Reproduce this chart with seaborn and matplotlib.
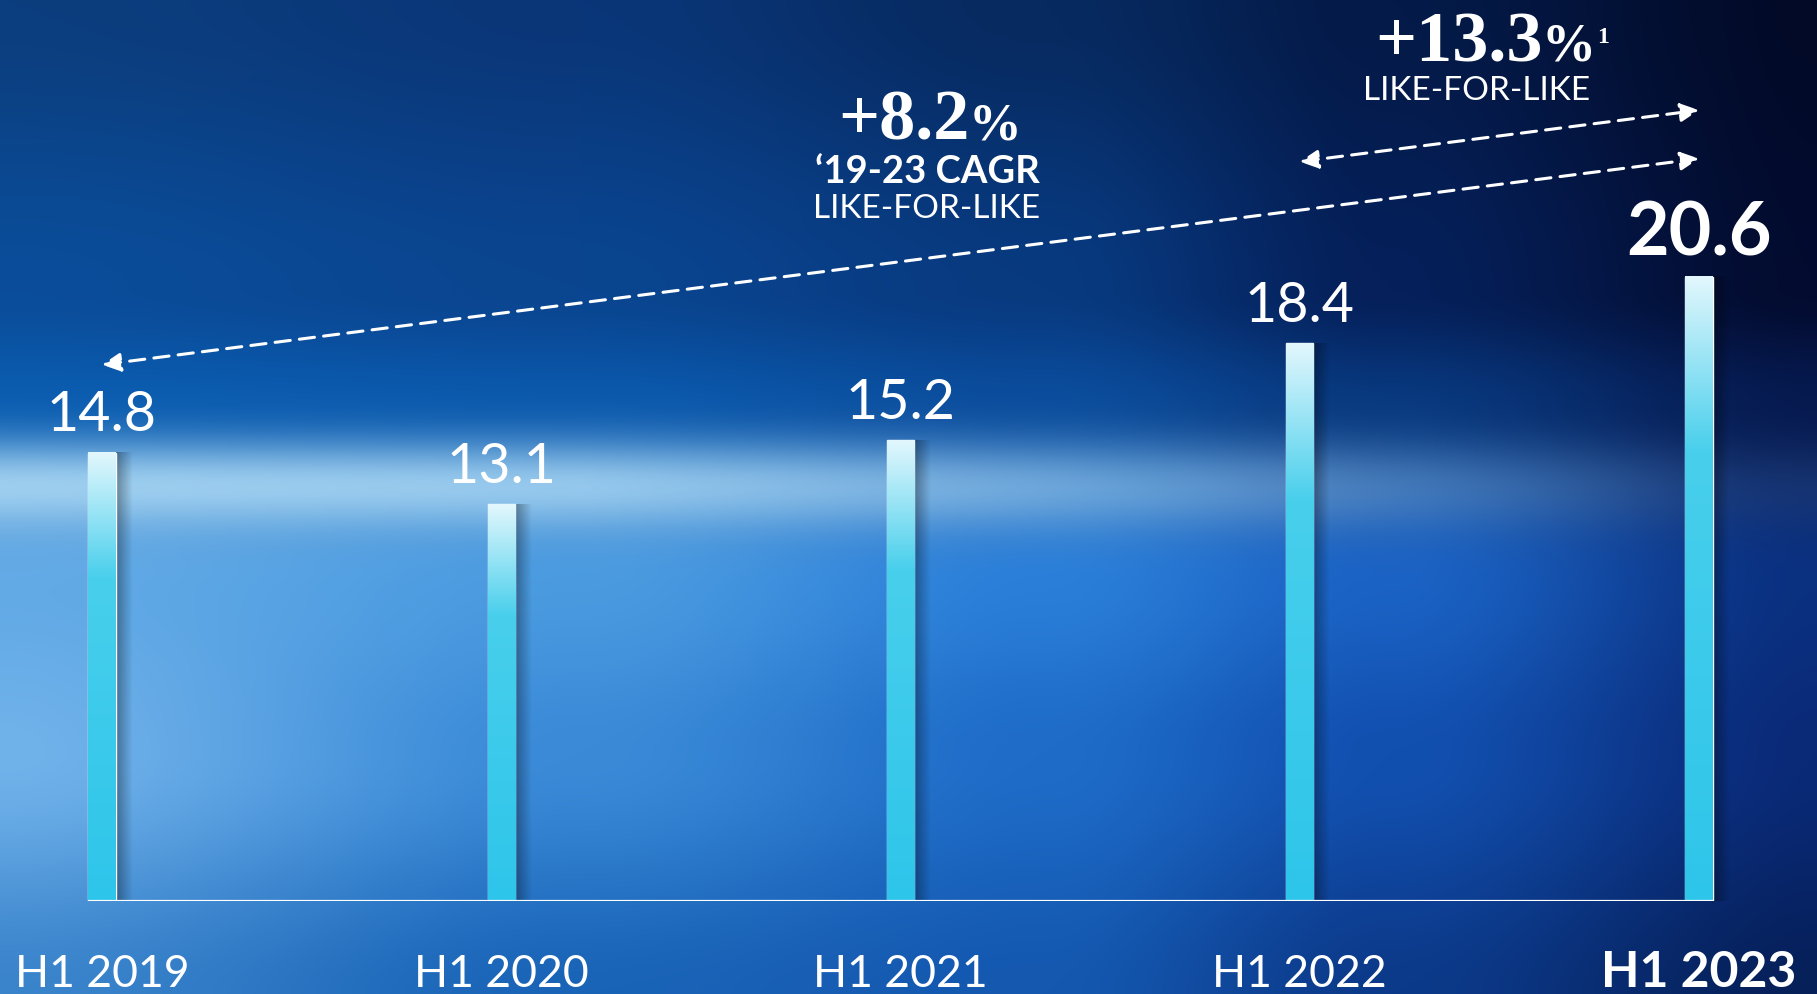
import numpy as np
import pandas as pd
import matplotlib.pyplot as plt
import matplotlib.colors as mcolors
import seaborn as sns

# -----------------------------------------------------------------------------
# Data
# -----------------------------------------------------------------------------
periods = ["H1 2019", "H1 2020", "H1 2021", "H1 2022", "H1 2023"]
sales = [14.8, 13.1, 15.2, 18.4, 20.6]
value_labels = ["14.8", "13.1", "15.2", "18.4", "20.6"]

cagr_value = "+8.2"
cagr_label = "\u201819-23 CAGR"
lfl_value = "+13.3"
lfl_label = "LIKE-FOR-LIKE"

df = pd.DataFrame({"period": periods, "sales": sales})

# -----------------------------------------------------------------------------
# Plotting attributes
# -----------------------------------------------------------------------------
sns.set_theme(style="white")
plt.rcParams["font.family"] = ["Lato", "DejaVu Sans"]

W, H, dpi = 1817, 995, 100
base_px = 93          # baseline height from the bottom (px)
step_px = 399.25      # distance between two bars (px)
first_px = 102        # centre of first bar (px)
unit_px = 30.3        # px per unit of sales

fig = plt.figure(figsize=(W / dpi, H / dpi), dpi=dpi)

# -----------------------------------------------------------------------------
# Background gradient
# -----------------------------------------------------------------------------
ys = np.array([0, 290, 405, 580, 753, 995])
xs = np.array([0, 580, 1043, 1390, 1817])
grid_hex = [
    ["#0c3e7e", "#0a3678", "#072a60", "#041a48", "#020a28"],
    ["#0a4d9a", "#0a4590", "#083a80", "#05205a", "#030c30"],
    ["#0a5cb0", "#0a58ac", "#0a4c9c", "#08387e", "#061a50"],
    ["#62aae6", "#4a9ae0", "#2a7ed8", "#1a62c4", "#0a3080"],
    ["#70b2ea", "#3a8ad8", "#1e6cc8", "#1250b0", "#0a2a78"],
    ["#3a84cc", "#1a64b8", "#1458b0", "#0c3a8a", "#06205a"],
]
grid = np.array([[mcolors.to_rgb(c) for c in row] for row in grid_hex])

def lerp_index(vals, knots):
    f = np.interp(vals, knots, np.arange(len(knots)))
    i0 = np.clip(np.floor(f).astype(int), 0, len(knots) - 2)
    t = f - i0
    t = t * t * (3 - 2 * t)
    return i0, t

xi, xt = lerp_index(np.arange(W), xs)
rows = grid[:, xi] * (1 - xt)[None, :, None] + grid[:, xi + 1] * xt[None, :, None]
yi, yt = lerp_index(np.arange(H), ys)
img = rows[yi] * (1 - yt)[:, None, None] + rows[yi + 1] * yt[:, None, None]

# light streak across the middle
streak_amp = np.interp(np.arange(W), [0, 580, 1043, 1390, 1740],
                       [0.85, 0.8, 0.55, 0.32, 0.08])
streak_w = streak_amp[None, :] * np.exp(-((np.arange(H) - 487) / 45.0) ** 2)[:, None]
streak_col = np.array(mcolors.to_rgb("#b0dcf6"))
img = img * (1 - streak_w[..., None]) + streak_col * streak_w[..., None]

bg = fig.add_axes([0, 0, 1, 1])
bg.imshow(img, extent=[0, W, H, 0], aspect="auto", interpolation="bilinear")
bg.axis("off")

# -----------------------------------------------------------------------------
# Bars
# -----------------------------------------------------------------------------
ax = fig.add_axes([0, base_px / H, 1, (H - base_px) / H])
ax.patch.set_alpha(0)
sns.barplot(data=df, x="period", y="sales", width=0.068, color="#35c8ea",
            ax=ax, zorder=3)

top_col = np.array(mcolors.to_rgb("#e2f7fd"))
mid_col = np.array(mcolors.to_rgb("#48cfec"))
bot_col = np.array(mcolors.to_rgb("#2ec5ea"))
tt = np.linspace(0, 1, 200)
grad = np.where((tt < 0.28)[:, None],
                top_col + (mid_col - top_col) * (tt / 0.28)[:, None],
                mid_col + (bot_col - mid_col) * ((tt - 0.28) / 0.72)[:, None])
grad = grad[:, None, :]

shadow = np.zeros((1, 50, 4))
shadow[..., 3] = np.linspace(0.35, 0.0, 50)

for p in ax.patches:
    x0, w, h = p.get_x(), p.get_width(), p.get_height()
    ax.imshow(shadow, extent=[x0 + w, x0 + 1.6 * w, 0, h], aspect="auto",
              zorder=2, interpolation="bilinear")
    ax.imshow(grad, extent=[x0, x0 + w, 0, h], aspect="auto", zorder=4,
              interpolation="bilinear")

first, last = ax.patches[0], ax.patches[-1]
ax.hlines(0, first.get_x(), last.get_x() + last.get_width(), color="white",
          lw=1.6, zorder=5)

ax.set_xlim(-first_px / step_px, 4 + (W - first_px - 4 * step_px) / step_px)
ax.set_ylim(0, (H - base_px) / unit_px)
ax.set(xlabel=None, ylabel=None, yticks=[])
sns.despine(ax=ax, left=True, bottom=True)

# x labels
ax.tick_params(axis="x", length=0, pad=61, colors="white")
for i, lab in enumerate(ax.get_xticklabels()):
    is_last = i == len(periods) - 1
    lab.set_va("baseline")
    lab.set_fontsize(36 if is_last else 32)
    lab.set_fontweight("bold" if is_last else "normal")

# value labels
for i, (v, lab) in enumerate(zip(sales, value_labels)):
    is_last = i == len(sales) - 1
    ax.annotate(lab, (i, v), xytext=(0, 16), textcoords="offset points",
                ha="center", va="baseline", color="white",
                fontsize=53 if is_last else 40,
                fontweight="bold" if is_last else "normal", zorder=6)

# -----------------------------------------------------------------------------
# Growth annotations
# -----------------------------------------------------------------------------
arrow = dict(arrowstyle="<|-|>", color="white", lw=2.2, linestyle=(0, (5, 3)),
             mutation_scale=28, shrinkA=0, shrinkB=0)
ax.annotate("", xy=(4, sales[4] + 3.9), xytext=(0, sales[0] + 2.9),
            arrowprops=arrow, zorder=6)
ax.annotate("", xy=(4, sales[4] + 5.5), xytext=(3, sales[3] + 6.0),
            arrowprops=arrow, zorder=6)

serif = ["Liberation Serif", "DejaVu Serif"]
fx = lambda px: px / W
fy = lambda px: 1 - px / H

# +8.2% '19-23 CAGR
t1 = fig.text(fx(970), fy(140), cagr_value, ha="right", va="baseline",
              color="white", fontsize=52, fontweight="bold", family=serif)
ax.annotate("%", xy=(1, 0), xycoords=t1, xytext=(-1, 2.9),
            textcoords="offset points", ha="left", va="bottom", color="white",
            fontsize=38, fontweight="bold", family=serif)
fig.text(fx(927), fy(183), cagr_label, ha="center", va="baseline",
         color="white", fontsize=27.5, fontweight="bold")
fig.text(fx(927), fy(218), lfl_label, ha="center", va="baseline",
         color="white", fontsize=24, fontweight="normal")

# +13.3% like-for-like
t2 = fig.text(fx(1543), fy(62), lfl_value, ha="right", va="baseline",
              color="white", fontsize=52, fontweight="bold", family=serif)
pct = ax.annotate("%", xy=(1, 0), xycoords=t2, xytext=(-1, 2.9),
                  textcoords="offset points", ha="left", va="bottom",
                  color="white", fontsize=39, fontweight="bold", family=serif)
ax.annotate("1", xy=(1, 1), xycoords=pct, xytext=(1, -3),
            textcoords="offset points", ha="left", va="top", color="white",
            fontsize=17, fontweight="bold", family=serif)
fig.text(fx(1477), fy(100), lfl_label, ha="center", va="baseline",
         color="white", fontsize=24, fontweight="normal")

plt.savefig("out.png", dpi=dpi)
